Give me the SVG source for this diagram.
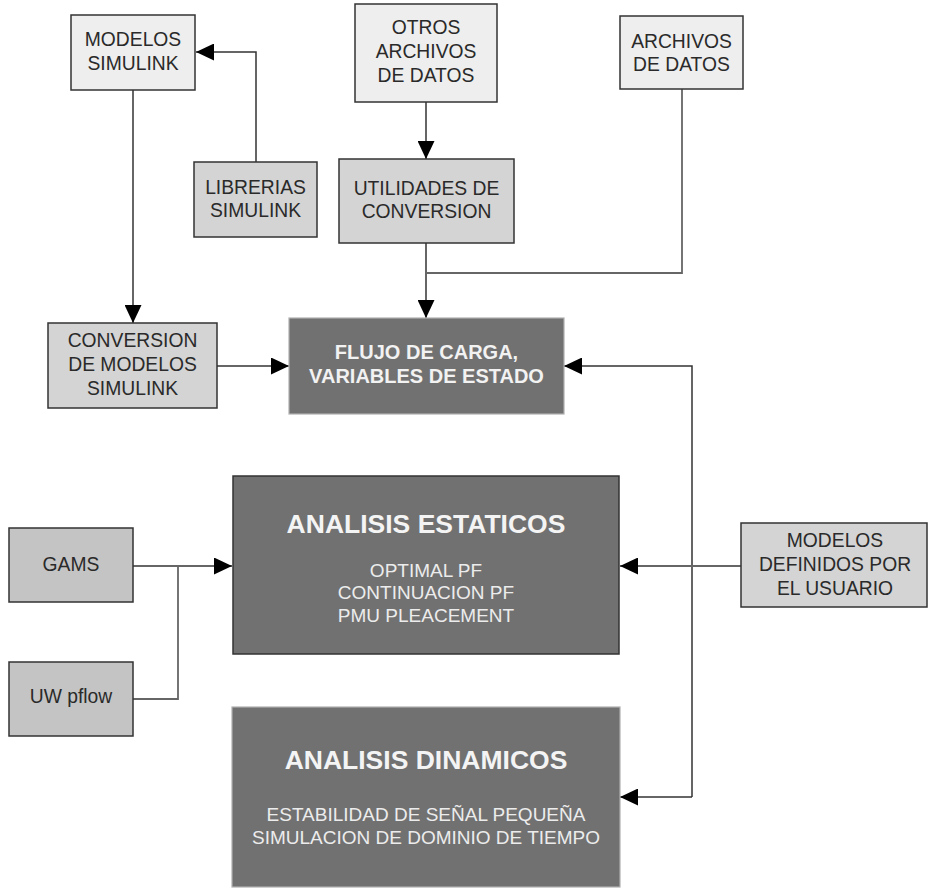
<svg xmlns="http://www.w3.org/2000/svg" width="929" height="888" viewBox="0 0 929 888">
<style>
.t{font-family:"Liberation Sans",Arial,sans-serif;font-size:19.3px;fill:#2a2a2a;text-anchor:middle}
.w{font-family:"Liberation Sans",Arial,sans-serif;font-size:19px;fill:#ececec;text-anchor:middle}
.wb{font-family:"Liberation Sans",Arial,sans-serif;font-size:20px;font-weight:bold;fill:#f2f2f2;text-anchor:middle}
.h{font-family:"Liberation Sans",Arial,sans-serif;font-size:26.5px;font-weight:bold;fill:#f4f4f4;text-anchor:middle}
.l1{fill:#eeeeee;stroke:#333;stroke-width:1.5}
.l2{fill:#d4d4d4;stroke:#333;stroke-width:1.5}
.l3{fill:#c4c4c4;stroke:#333;stroke-width:1.5}
.dk{fill:#717171;stroke:#b0b0b0;stroke-width:1.2}
.dk2{fill:#717171;stroke:#333;stroke-width:1.5}
.c{fill:none;stroke:#333;stroke-width:1.5}
.c2{fill:none;stroke:#666;stroke-width:1.8}
</style>
<defs>
<marker id="ah" viewBox="0 0 18 17" refX="18" refY="8.5" markerWidth="18" markerHeight="17" markerUnits="userSpaceOnUse" orient="auto">
<path d="M0,0 L18,8.5 L0,17 z" fill="#000"/>
</marker>
</defs>
<rect width="929" height="888" fill="#fff"/>
<g id="connectors">
<path class="c" d="M256,162 V52 H196" marker-end="url(#ah)"/>
<path class="c" d="M133,90 V323" marker-end="url(#ah)"/>
<path class="c" d="M426,102 V159" marker-end="url(#ah)"/>
<path class="c" d="M426,243 V318" marker-end="url(#ah)"/>
<path class="c2" d="M682,89 V273 H426"/>
<path class="c" d="M217,366 H289" marker-end="url(#ah)"/>
<path class="c" d="M692,797 V366 H564" marker-end="url(#ah)"/>
<path class="c" d="M692,797 H620" marker-end="url(#ah)"/>
<path class="c2" d="M741,566 H620" marker-end="url(#ah)"/>
<path class="c2" d="M133,566 H232" marker-end="url(#ah)"/>
<path class="c2" d="M133,699 H178 V566"/>
</g>
<g id="modelos-simulink">
<rect class="l1" x="71" y="15" width="124" height="75"/>
<text class="t" x="133" y="46">MODELOS</text>
<text class="t" x="133" y="70">SIMULINK</text>
</g>
<g id="librerias-simulink">
<rect class="l2" x="194" y="162" width="123" height="75"/>
<text class="t" x="255.5" y="194">LIBRERIAS</text>
<text class="t" x="255.5" y="217">SIMULINK</text>
</g>
<g id="otros-archivos">
<rect class="l1" x="355" y="4" width="142" height="98"/>
<text class="t" x="426" y="34">OTROS</text>
<text class="t" x="426" y="58">ARCHIVOS</text>
<text class="t" x="426" y="82">DE DATOS</text>
</g>
<g id="utilidades">
<rect class="l2" x="339" y="159" width="175" height="84"/>
<text class="t" x="426.5" y="195">UTILIDADES DE</text>
<text class="t" x="426.5" y="218">CONVERSION</text>
</g>
<g id="archivos-datos">
<rect class="l1" x="620" y="16" width="123" height="73"/>
<text class="t" x="681.5" y="48">ARCHIVOS</text>
<text class="t" x="681.5" y="71">DE DATOS</text>
</g>
<g id="conversion-modelos">
<rect class="l2" x="48" y="323" width="169" height="85"/>
<text class="t" x="132.5" y="347">CONVERSION</text>
<text class="t" x="132.5" y="371">DE MODELOS</text>
<text class="t" x="132.5" y="395">SIMULINK</text>
</g>
<g id="flujo-carga">
<rect class="dk" x="289" y="318" width="275" height="96"/>
<text class="wb" x="426.5" y="359">FLUJO DE CARGA,</text>
<text class="wb" x="426.5" y="383">VARIABLES DE ESTADO</text>
</g>
<g id="gams">
<rect class="l3" x="9" y="528" width="124" height="74"/>
<text class="t" x="71" y="571">GAMS</text>
</g>
<g id="uw-pflow">
<rect class="l3" x="9" y="662" width="124" height="74"/>
<text class="t" x="71" y="703">UW pflow</text>
</g>
<g id="analisis-estaticos">
<rect class="dk2" x="233" y="476" width="386" height="178"/>
<text class="h" x="426" y="533">ANALISIS ESTATICOS</text>
<text class="w" x="426" y="577">OPTIMAL PF</text>
<text class="w" x="426" y="599">CONTINUACION PF</text>
<text class="w" x="426" y="622">PMU PLEACEMENT</text>
</g>
<g id="modelos-definidos">
<rect class="l2" x="741" y="523" width="186" height="84"/>
<text class="t" x="835" y="547">MODELOS</text>
<text class="t" x="835" y="571">DEFINIDOS POR</text>
<text class="t" x="835" y="595">EL USUARIO</text>
</g>
<g id="analisis-dinamicos">
<rect class="dk" x="232" y="707" width="388" height="180"/>
<text class="h" x="426" y="769">ANALISIS DINAMICOS</text>
<text class="w" x="426" y="821">ESTABILIDAD DE SEÑAL PEQUEÑA</text>
<text class="w" x="426" y="844">SIMULACION DE DOMINIO DE TIEMPO</text>
</g>
</svg>
